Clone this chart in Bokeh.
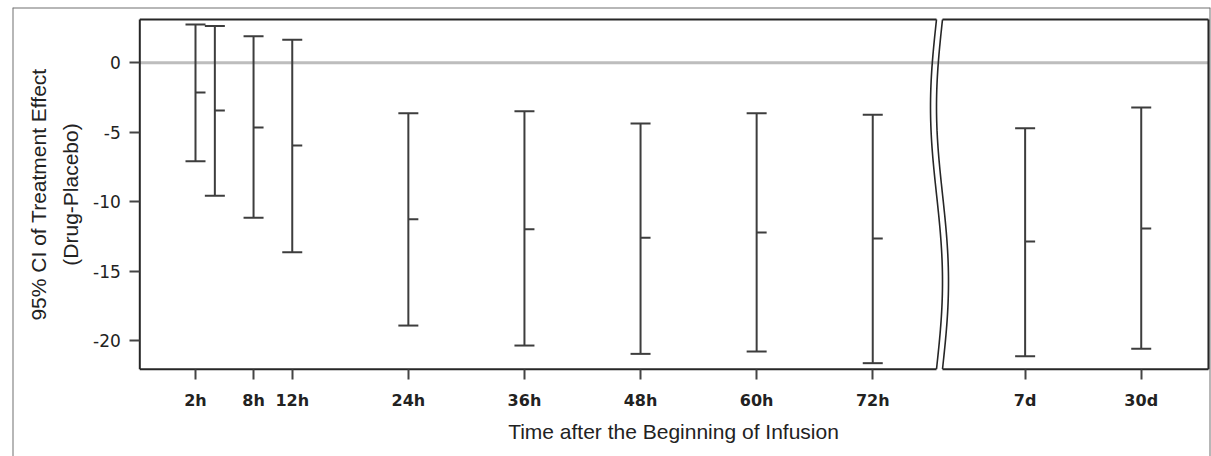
import numpy as np
from bokeh.plotting import figure
from bokeh.models import Range1d, FixedTicker, Label, Whisker, TeeHead, ColumnDataSource
from bokeh.embed import file_html
from bokeh.resources import INLINE

# ---------------- data ----------------
hours = [2, 4, 8, 12, 24, 36, 48, 60, 72]
h_upper = [2.76, 2.66, 1.92, 1.66, -3.63, -3.49, -4.37, -3.63, -3.75]
h_mean = [-2.14, -3.44, -4.66, -5.96, -11.27, -11.99, -12.61, -12.23, -12.66]
h_lower = [-7.09, -9.58, -11.17, -13.64, -18.93, -20.37, -20.97, -20.80, -21.64]

hour_ticks = [2, 8, 12, 24, 36, 48, 60, 72]
hour_tick_labels = ["2h", "8h", "12h", "24h", "36h", "48h", "60h", "72h"]

days = ["7d", "30d"]
d_upper = [-4.71, -3.22]
d_mean = [-12.87, -11.94]
d_lower = [-21.14, -20.60]

y_ticks = [0, -5, -10, -15, -20]
y_tick_labels = ["0", "-5", "-10", "-15", "-20"]

y_title_lines = ["95% CI of Treatment Effect", "(Drug-Placebo)"]
x_title = "Time after the Beginning of Infusion"

# ---------------- layout (axis units) ----------------
X_RANGE = (-16.915, 106.91)
Y_RANGE = (-28.364, 3.984)
PANEL_LEFT = -3.757
PANEL_TOP = 3.12
PANEL_BOTTOM = -22.07
BREAK_X = 78.59
BREAK_GAP = 0.62
BREAK_AMP = 0.62
RIGHT_EDGE = 106.70
DAY_X0 = 87.75
DAY_STEP = 12.0

day_pos = [DAY_X0 + DAY_STEP * i for i in range(len(days))]

FRAME_COLOR = "#262626"
BAR_COLOR = "#3d3d3d"
TEXT_COLOR = "#222222"

p = figure(width=1211, height=456, output_backend="svg", toolbar_location=None,
           x_range=Range1d(*X_RANGE), y_range=Range1d(*Y_RANGE),
           min_border_left=12, min_border_right=1, min_border_top=7, min_border_bottom=0)
p.outline_line_color = None
p.grid.visible = False
p.background_fill_color = "white"
p.border_fill_color = "white"

# outer border (left, top, right edges of the frame)
p.multi_line(xs=[[X_RANGE[0], X_RANGE[0]], [X_RANGE[0], X_RANGE[1]], [X_RANGE[1], X_RANGE[1]]],
             ys=[[Y_RANGE[0], Y_RANGE[1]], [Y_RANGE[1], Y_RANGE[1]], [Y_RANGE[0], Y_RANGE[1]]],
             line_color="#707070", line_width=2)

# zero reference line
p.line(x=[PANEL_LEFT, RIGHT_EDGE], y=[0, 0], line_color="#bdbdbd", line_width=3)

# panel frames
p.multi_line(
    xs=[[PANEL_LEFT, BREAK_X], [PANEL_LEFT, BREAK_X], [PANEL_LEFT, PANEL_LEFT],
        [BREAK_X + BREAK_GAP, RIGHT_EDGE], [BREAK_X + BREAK_GAP, RIGHT_EDGE], [RIGHT_EDGE, RIGHT_EDGE]],
    ys=[[PANEL_TOP, PANEL_TOP], [PANEL_BOTTOM, PANEL_BOTTOM], [PANEL_TOP, PANEL_BOTTOM],
        [PANEL_TOP, PANEL_TOP], [PANEL_BOTTOM, PANEL_BOTTOM], [PANEL_TOP, PANEL_BOTTOM]],
    line_color=FRAME_COLOR, line_width=2)

# wavy axis break
t = np.linspace(0, 1, 80)
wy = PANEL_TOP - t * (PANEL_TOP - PANEL_BOTTOM)
wx = BREAK_X - BREAK_AMP * np.sin(2 * np.pi * t)
p.multi_line(xs=[list(wx), list(wx + BREAK_GAP)], ys=[list(wy), list(wy)],
             line_color=FRAME_COLOR, line_width=1.6)

# error bars
all_x = hours + day_pos
all_up = h_upper + d_upper
all_lo = h_lower + d_lower
all_mean = h_mean + d_mean
src = ColumnDataSource(dict(x=all_x, upper=all_up, lower=all_lo, mean=all_mean))
w = Whisker(base="x", upper="upper", lower="lower", source=src, dimension="height",
            line_color=BAR_COLOR, line_width=2, level="annotation",
            upper_head=TeeHead(size=20, line_color=BAR_COLOR, line_width=2),
            lower_head=TeeHead(size=20, line_color=BAR_COLOR, line_width=2))
p.add_layout(w)
p.ray(x="x", y="mean", length=10, length_units="screen", angle=0, source=src,
      line_color=BAR_COLOR, line_width=2)

# y axis (placed at the panel's left edge)
ya = p.yaxis[0]
ya.fixed_location = PANEL_LEFT
ya.ticker = FixedTicker(ticks=y_ticks)
ya.major_label_overrides = {v: s for v, s in zip(y_ticks, y_tick_labels)}
ya.axis_line_color = None
ya.major_tick_in = 0
ya.major_tick_out = 10
ya.major_tick_line_color = "#444444"
ya.major_tick_line_width = 2
ya.minor_tick_line_color = None
ya.major_label_text_font = "DejaVu Sans"
ya.major_label_text_font_size = "17px"
ya.major_label_text_color = TEXT_COLOR
ya.major_label_standoff = 9

# x axis (placed at the panel's bottom edge)
xa = p.xaxis[0]
xa.fixed_location = PANEL_BOTTOM
xa.ticker = FixedTicker(ticks=hour_ticks + day_pos)
xa.major_label_overrides = {**{v: s for v, s in zip(hour_ticks, hour_tick_labels)},
                            **{v: s for v, s in zip(day_pos, days)}}
xa.axis_line_color = None
xa.major_tick_in = 0
xa.major_tick_out = 10
xa.major_tick_line_color = "#444444"
xa.major_tick_line_width = 2
xa.minor_tick_line_color = None
xa.major_label_text_font = "DejaVu Sans"
xa.major_label_text_font_size = "16px"
xa.major_label_text_font_style = "bold"
xa.major_label_text_color = TEXT_COLOR
xa.major_label_standoff = 12

# axis titles (screen units are measured from the frame's bottom-left corner)
title_style = dict(text_font="Liberation Sans", text_font_size="21px", text_color=TEXT_COLOR,
                   text_align="center", text_baseline="middle", x_units="screen", y_units="screen")
for txt, sx in zip(y_title_lines, [26, 58]):
    p.add_layout(Label(x=sx, y=262, text=txt, angle=np.pi / 2, **title_style))
p.add_layout(Label(x=661, y=25, text=x_title, **title_style))

open("out.html", "w").write(file_html(p, INLINE))
